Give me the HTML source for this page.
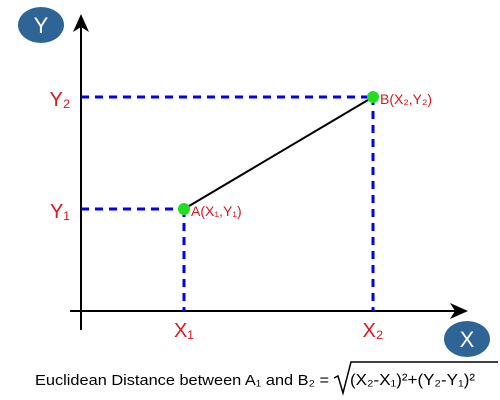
<!DOCTYPE html>
<html><head><meta charset="utf-8"><style>
body{margin:0;background:#fff;}
svg{display:block;font-family:"Liberation Sans","DejaVu Sans",sans-serif;}
</style></head><body>
<svg id="c" width="500" height="400" viewBox="0 0 500 400">
<line x1="81" y1="330" x2="81" y2="22" stroke="#000" stroke-width="2"/>
<polygon points="81,14 73,32 81,27 89,32" fill="#000"/>
<line x1="70" y1="311" x2="460" y2="311" stroke="#000" stroke-width="2"/>
<polygon points="468,311 450,303 455,311 450,319" fill="#000"/>
<ellipse cx="41" cy="25" rx="23" ry="18" fill="#2e6496"/>
<text x="41" y="33" font-size="22" fill="#fff" text-anchor="middle">Y</text>
<ellipse cx="467" cy="339" rx="23" ry="18" fill="#2e6496"/>
<text x="467" y="347" font-size="22" fill="#fff" text-anchor="middle">X</text>
<g id="marks"></g>
<text x="35" y="385" font-size="15" fill="#000" textLength="294" lengthAdjust="spacingAndGlyphs">Euclidean Distance between A₁ and B₂ =</text>
<polyline points="334,378 338,376 343,393 351,362 498,362" fill="none" stroke="#000" stroke-width="1.5"/>
<text x="350" y="385" font-size="16" fill="#000" textLength="125" lengthAdjust="spacingAndGlyphs">(X₂-X₁)²+(Y₂-Y₁)²</text>
</svg>
<script>
const pointNames=["A","B"];
const xValues=[1,2];
const yValues=[1,2];
const xTickLabels=["X₁","X₂"];
const yTickLabels=["Y₁","Y₂"];
const pointLabels=["A(X₁,Y₁)","B(X₂,Y₂)"];
const NS="http://www.w3.org/2000/svg";
const sx=v=>184+(v-1)*189;
const sy=v=>209-(v-1)*112;
const g=document.getElementById('marks');
function mk(t,a){const e=document.createElementNS(NS,t);for(const k in a)e.setAttribute(k,a[k]);g.appendChild(e);return e;}
for(let i=0;i<xValues.length;i++){
  const x=sx(xValues[i]),y=sy(yValues[i]);
  const h=mk('line',{x1:81,y1:y,x2:x,y2:y,stroke:'#0000ee','stroke-width':3,'stroke-dasharray':'8,6'});
  
  
  const v=mk('line',{x1:x,y1:y,x2:x,y2:311,stroke:'#0000ee','stroke-width':3,'stroke-dasharray':'8,6'});
  
  
  const xt=mk('text',{x:x,y:337,'font-size':20,fill:'#d71920','text-anchor':'middle'});
  xt.textContent=xTickLabels[i];
  
  
  const yt=mk('text',{x:60,y:y+9,'font-size':20,fill:'#d71920','text-anchor':'middle'});
  yt.textContent=yTickLabels[i];
  
  
}
const ln=mk('line',{x1:sx(xValues[0]),y1:sy(yValues[0]),x2:sx(xValues[1]),y2:sy(yValues[1]),stroke:'#000','stroke-width':2});


for(let i=0;i<xValues.length;i++){
  const x=sx(xValues[i]),y=sy(yValues[i]);
  const c=mk('circle',{cx:x,cy:y,r:6,fill:'#22dd22'});
  
  
  const t=mk('text',{x:x+7,y:y+7,'font-size':14,fill:'#d71920'});
  t.textContent=pointLabels[i];
  
  
}
</script>
</body></html>
